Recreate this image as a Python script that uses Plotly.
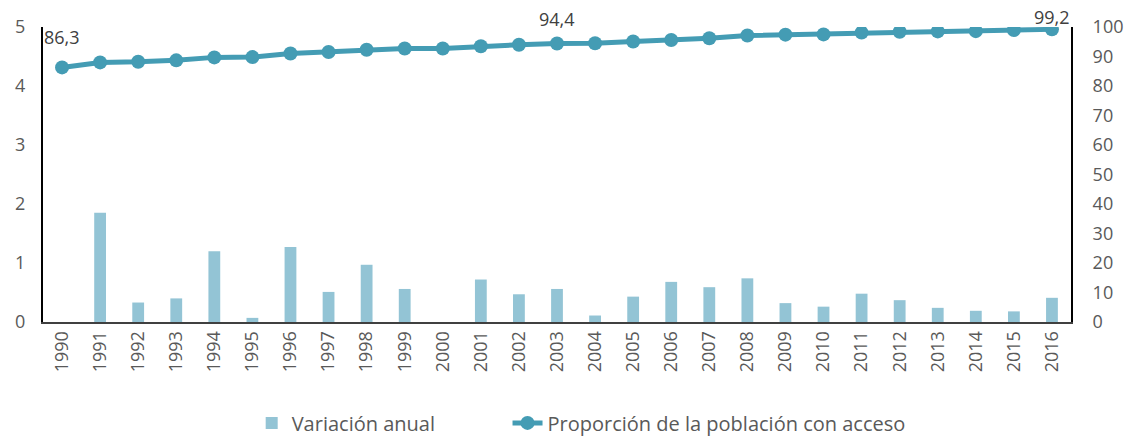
import plotly.graph_objects as go

years = [str(y) for y in range(1990, 2017)]

# Variación anual (%), eje izquierdo
variacion = [0, 1.85, 0.33, 0.40, 1.20, 0.07, 1.27, 0.51, 0.97, 0.56, 0,
             0.72, 0.47, 0.56, 0.11, 0.43, 0.68, 0.59, 0.74, 0.32, 0.26,
             0.48, 0.37, 0.24, 0.19, 0.18, 0.41]

# Proporción de la población con acceso (%), eje derecho
proporcion = [86.3, 88.0, 88.2, 88.7, 89.7, 89.8, 91.0, 91.5, 92.3, 92.7, 92.7,
              93.5, 94.0, 94.4, 94.5, 95.1, 95.6, 96.2, 97.1, 97.4, 97.5,
              98.1, 98.4, 98.5, 98.6, 99.0, 99.2]

labelled = {"1990": 30, "2003": 25, "2016": 12}

fig = go.Figure()

# trailing nbsp widen the gap between the two legend entries
fig.add_trace(go.Bar(
    x=years, y=variacion, name="Variación anual" + "\u00a0" * 13,
    marker=dict(color="#93C4D5", line=dict(width=0)),
    width=0.31, yaxis="y",
))

fig.add_trace(go.Scatter(
    x=years, y=proporcion, name="Proporción de la población con acceso",
    mode="lines+markers", yaxis="y2",
    line=dict(color="#449CB4", width=5),
    marker=dict(color="#449CB4", size=14),
))

for yr, shift in labelled.items():
    i = years.index(yr)
    # category axis: position by index so "2003" is not read as a number
    fig.add_annotation(
        x=i, y=proporcion[i], xref="x", yref="y2",
        text=f"{proporcion[i]:.1f}".replace(".", ","),
        showarrow=False, yshift=shift, font=dict(size=18, color="#404040"),
    )

# page body adds an 8px margin, so the figure is 8px smaller each way
fig.update_layout(
    width=1125, height=429,
    margin=dict(l=35, r=62, t=19, b=115, autoexpand=False),
    plot_bgcolor="white", paper_bgcolor="white",
    font=dict(family="Open Sans, Noto Sans, sans-serif", size=18, color="#595959"),
    showlegend=True,
    legend=dict(orientation="h", x=0.203, xanchor="left", y=-0.342, yanchor="middle",
                font=dict(size=20, color="#595959"), traceorder="normal"),
    xaxis=dict(type="category", range=[-0.5, 26.5], tickangle=-90, showgrid=False,
               showline=True, linecolor="#404040", linewidth=2, ticks=""),
    yaxis=dict(range=[0, 5], dtick=1, showgrid=False, showline=True,
               linecolor="black", linewidth=2, zeroline=False, ticks="",
               ticklabelstandoff=12),
    yaxis2=dict(range=[0, 100], dtick=10, overlaying="y", side="right",
                showgrid=False, showline=True, linecolor="black", linewidth=2,
                zeroline=False, ticks="", ticklabelstandoff=16),
)

fig.write_html("out.html")
